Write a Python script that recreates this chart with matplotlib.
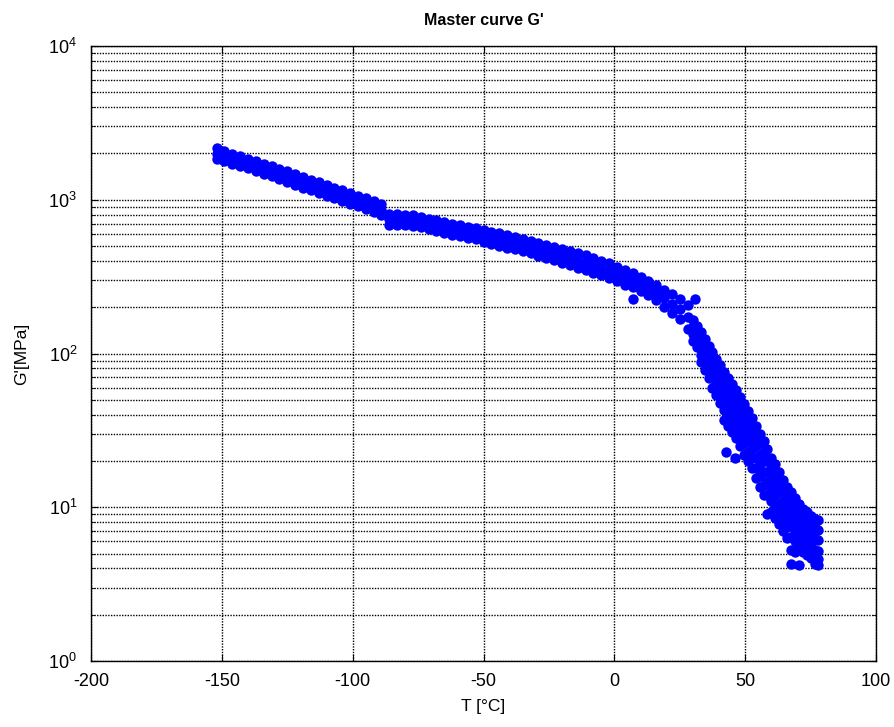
import numpy as np
import matplotlib
matplotlib.use("Agg")
import matplotlib.pyplot as plt
from matplotlib.ticker import LogLocator, FuncFormatter, NullFormatter

plt.rcParams['font.family'] = ['Liberation Sans', 'DejaVu Sans']
plt.rcParams['mathtext.default'] = 'regular'
plt.rcParams['axes.unicode_minus'] = False

# smooth part of the master curve: temperature and three values per column
t_band = [-152, -149, -146, -143, -140, -137, -134, -131, -128, -125, -122, -119,
          -116, -113, -110, -107, -104, -101, -98, -95, -92, -89, -86, -83, -80,
          -77, -74, -71, -68, -65, -62, -59, -56, -53, -50, -47, -44, -41, -38,
          -35, -32, -29, -26, -23, -20, -17, -14, -11, -8, -5, -2, 1, 4, 7, 10,
          13, 16, 19, 22, 25, 28]
g_top = [2180, 2070, 1990, 1920, 1850, 1780, 1720, 1650, 1590, 1530, 1470, 1410,
         1350, 1300, 1250, 1200, 1150, 1100, 1060, 1020, 985, 935, 810, 805, 800,
         795, 775, 755, 740, 720, 700, 685, 670, 655, 635, 620, 605, 590, 575,
         555, 540, 525, 510, 495, 480, 465, 450, 435, 418, 398, 385, 368, 350,
         332, 314, 297, 278, 260, 242, 226, 208]
g_mid = [1990, 1920, 1850, 1790, 1720, 1660, 1600, 1530, 1470, 1410, 1360, 1300,
         1250, 1200, 1150, 1110, 1060, 1010, 970, 940, 910, 860, 750, 748, 742,
         736, 716, 700, 685, 665, 645, 630, 615, 600, 580, 565, 550, 535, 520,
         505, 490, 475, 460, 445, 430, 415, 400, 385, 370, 355, 345, 330, 312,
         298, 282, 265, 248, 228, 210, 195, 172]
g_low = [1830, 1780, 1720, 1660, 1600, 1540, 1480, 1420, 1360, 1300, 1250, 1200,
         1150, 1105, 1065, 1025, 985, 940, 905, 870, 835, 795, 690, 688, 684,
         680, 662, 648, 630, 612, 594, 580, 566, 552, 532, 518, 502, 488, 476,
         462, 448, 433, 418, 404, 390, 376, 361, 347, 336, 322, 312, 297, 281,
         270, 255, 240, 222, 202, 183, 168, 144]

# steep (glass transition) part: one list of values per temperature
t_steep = [30.0, 31.5, 33.0, 34.5, 36.0, 37.5, 39.0, 40.5, 42.0, 43.5, 45.0,
           46.5, 48.0, 49.5, 51.0, 52.5, 54.0, 55.5, 57.0, 58.5, 60.0, 61.5,
           63.0, 64.5, 66.0, 67.5, 69.0, 70.5, 72.0, 73.5, 75.0, 76.5, 78.0]
g_steep = [
    [165, 148, 134, 120],
    [152, 137, 123, 110],
    [138, 122, 109, 98, 88],
    [124, 110, 98, 88, 78],
    [112, 99, 88, 78, 69],
    [102, 90, 79, 69, 60],
    [92, 81, 71, 62, 54],
    [84, 73, 64, 56, 48],
    [76, 66, 57, 50, 43, 37],
    [69, 60, 52, 45, 39, 34],
    [63, 55, 47, 41, 36, 31],
    [58, 50, 43, 37, 32, 28],
    [52, 45, 39, 34, 29, 25],
    [47, 41, 35, 30, 26, 22],
    [42, 37, 32, 27, 23, 20],
    [38, 33, 28, 24, 21, 18],
    [34, 29, 25, 21, 18, 15.5],
    [30, 26, 22, 19, 16, 13.5],
    [27, 23, 20, 17, 14, 12],
    [24, 20, 17, 14.5, 12, 9],
    [21, 18, 15.5, 13, 11, 9.3],
    [19, 16, 14, 12, 10, 8.5],
    [17, 14.5, 12.5, 10.5, 9, 7.8],
    [15, 13, 11, 9.5, 8.2, 7],
    [13.5, 12, 10, 8.7, 7.4, 6.3],
    [12.5, 10.8, 9.2, 7.7, 6.4, 5.3, 4.3],
    [11.5, 9.8, 8.3, 7, 6, 5.1],
    [10.5, 9, 7.7, 6.5, 5.5, 4.2],
    [9.8, 8.4, 7.1, 6, 5.1],
    [9.3, 8, 6.8, 5.8, 4.9],
    [8.8, 7.6, 6.5, 5.5, 4.7],
    [8.4, 7.3, 6.2, 5.3, 4.3],
    [8.2, 7.1, 6.1, 5.2, 4.6, 4.2],
]

# a few isolated points
t_out = [7, 31, 42.5, 46]
g_out = [226, 226, 23, 21]

T = list(t_band) * 3
G = g_top + g_mid + g_low
for t, col in zip(t_steep, g_steep):
    T += [t] * len(col)
    G += col
T += t_out
G += g_out

fig = plt.figure(figsize=(8.95, 7.27), dpi=100)
ax = fig.add_axes([0.1017, 0.0908, 0.8771, 0.8459])

ax.semilogy(T, G, 'o', color=(0, 0, 1), markersize=7.5, markeredgewidth=0)

ax.set_xlim(-200, 100)
ax.set_ylim(1, 1e4)
ax.set_xticks([-200, -150, -100, -50, 0, 50, 100])
ax.yaxis.set_major_locator(LogLocator(base=10, numticks=10))
ax.yaxis.set_minor_locator(LogLocator(base=10, subs=np.arange(2, 10), numticks=50))
ax.yaxis.set_major_formatter(FuncFormatter(lambda v, p: r'$10^{%d}$' % round(np.log10(v))))
ax.yaxis.set_minor_formatter(NullFormatter())

dots = (0, (1, 1))
ax.grid(True, which='major', color='k', linestyle=dots, linewidth=1.0)
ax.grid(True, which='minor', axis='y', color='k', linestyle=dots, linewidth=1.0)

ax.tick_params(which='both', direction='in', top=True, right=True, labelsize=13)
ax.tick_params(which='major', length=5)
ax.tick_params(which='minor', length=3)
ax.tick_params(axis='x', pad=9)
ax.tick_params(axis='y', pad=10)
for s in ax.spines.values():
    s.set_linewidth(1.0)

ax.set_title("Master curve G'", fontsize=11.5, fontweight='bold', pad=15)
ax.set_xlabel("T [°C]", fontsize=12.5, labelpad=6)
ax.set_ylabel("G'[MPa]", fontsize=12.5, labelpad=14)

fig.savefig("out.png", dpi=100)
